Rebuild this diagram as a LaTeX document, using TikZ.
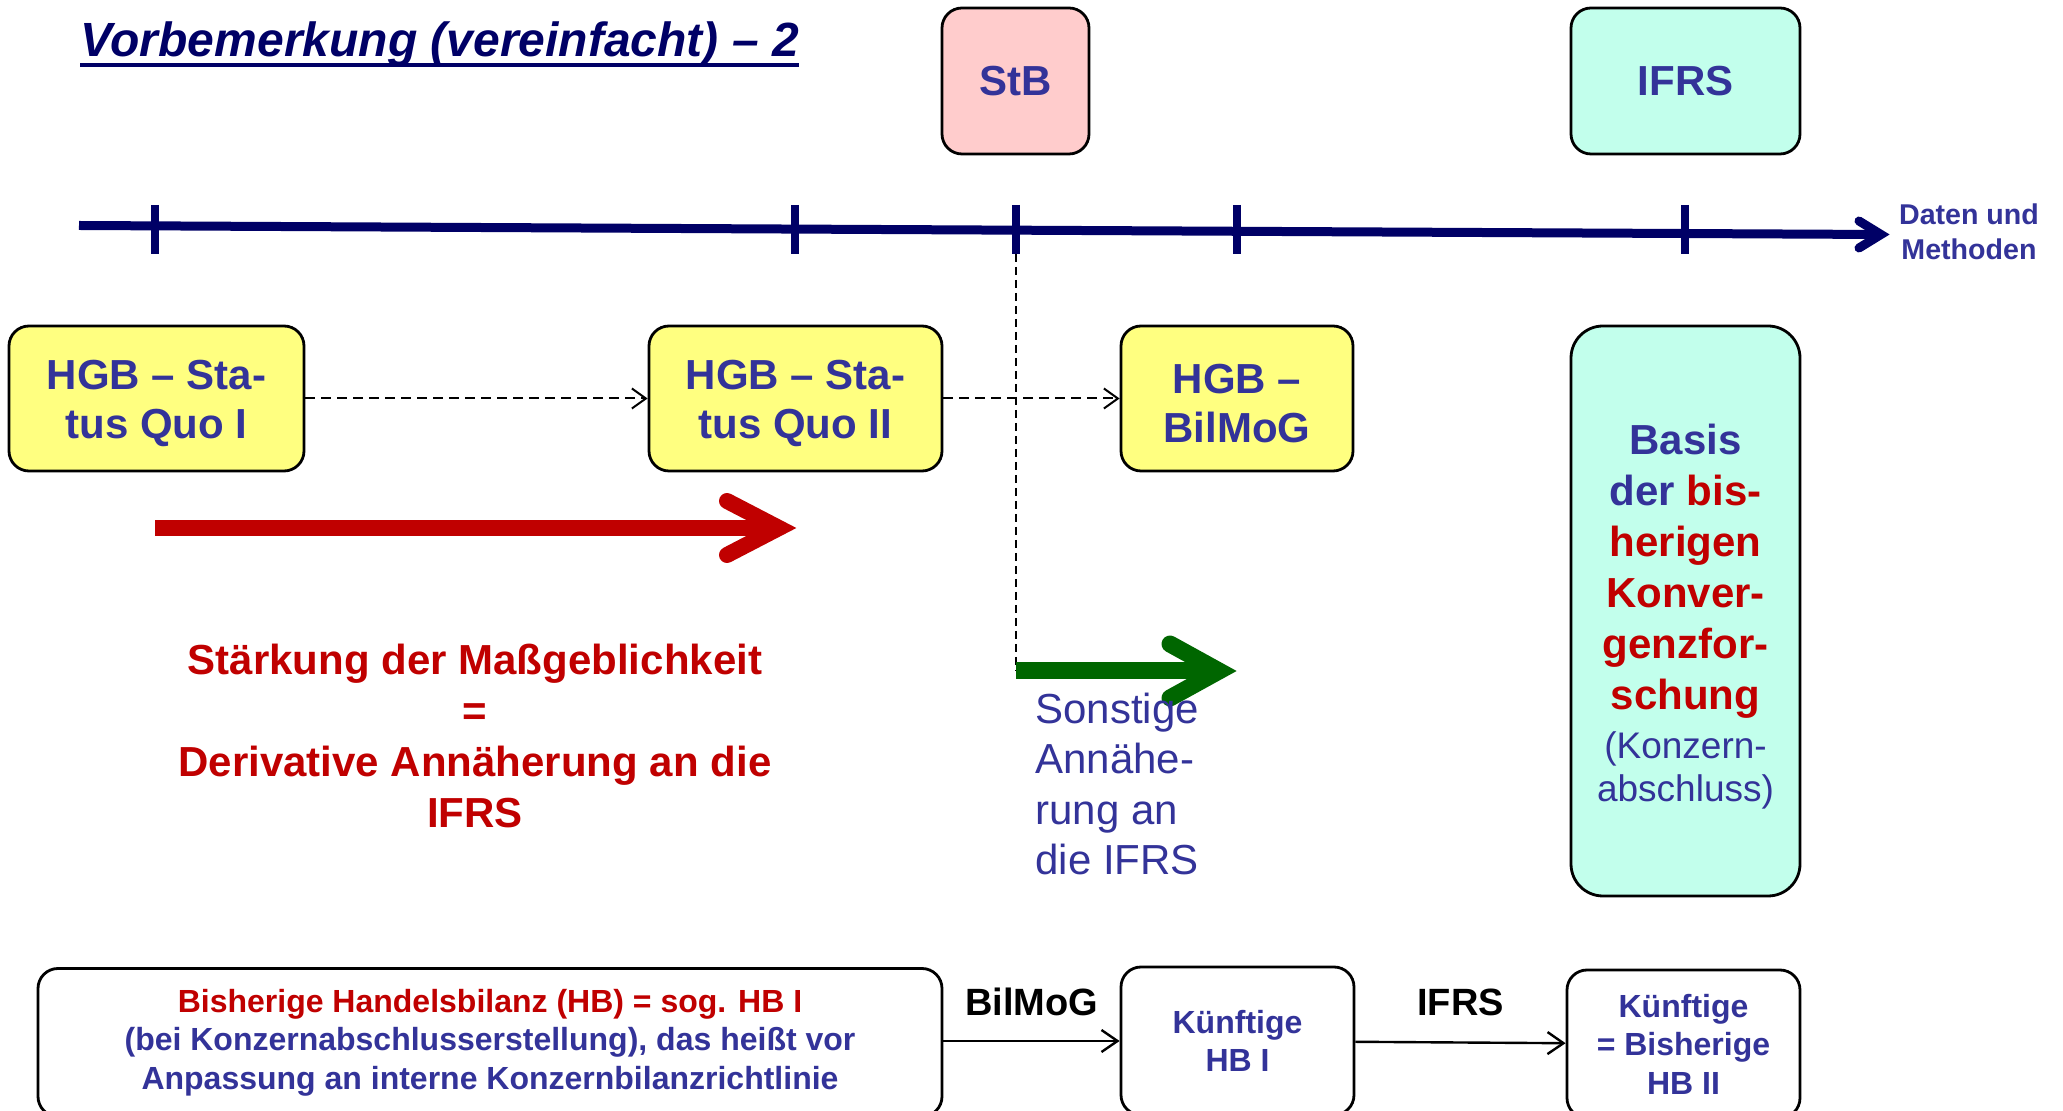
\documentclass[tikz,border=0pt]{standalone}
\usepackage{fontspec}
\setmainfont{Liberation Sans}
\usetikzlibrary{arrows.meta}
\definecolor{navy}{HTML}{333399}
\definecolor{deepnavy}{HTML}{000066}
\definecolor{hred}{HTML}{C00000}
\definecolor{hgreen}{HTML}{006600}
\definecolor{hyellow}{HTML}{FFFF80}
\definecolor{hpink}{HTML}{FFCCCC}
\definecolor{hmint}{HTML}{C2FFEC}
\begin{document}
\begin{tikzpicture}[x=0.5pt,y=-0.5pt,
  rbox/.style={draw=black, line width=1.4pt, rounded corners=10pt, inner sep=0pt, align=center},
  bigtext/.style={font=\fontsize{21}{24.5}\selectfont\bfseries, text=navy, align=center, inner sep=0pt},
  smalltext/.style={font=\fontsize{16}{19.25}\selectfont\bfseries, text=navy},
  dasharrow/.style={draw=black, line width=1pt, dash pattern=on 5pt off 3pt, -{Straight Barb[length=7pt,width=10pt]}},
  solidarrow/.style={draw=black, line width=1.2pt, -{Straight Barb[length=8pt,width=11pt]}},
  tickmark/.style={draw=deepnavy, line width=4pt},
  fatchev/.style={line cap=round, line join=miter},
  lbl/.style={font=\fontsize{19}{22}\selectfont\bfseries, text=black, inner sep=0pt}
]
\useasboundingbox (0,0) rectangle (2063,1111);
\fill[white] (0,0) rectangle (2063,1111);

% title
\node[anchor=base west, inner sep=0pt, font=\fontsize{24}{28}\selectfont\bfseries\itshape, text=deepnavy] (title) at (80,57) {Vorbemerkung (vereinfacht) – 2};
\draw[deepnavy, line width=1.7pt] ([yshift=-4pt]title.base west) -- ([yshift=-4pt]title.base east);

% top boxes
\node[rbox, fill=hpink, minimum width=73.5pt, minimum height=73pt, bigtext] (stb) at (1015.5,81) {StB};
\node[rbox, fill=hmint, minimum width=114.5pt, minimum height=73pt, bigtext] (ifrs) at (1685.5,81) {IFRS};

% timeline
\coordinate (tl0) at (79,225.5);
\coordinate (tl1) at (1881,234.5);
\draw[deepnavy, line width=4.5pt] (tl0) -- (tl1);
\draw[deepnavy, line width=4.5pt, fatchev] (1859,221) -- (tl1) -- (1859,248);
\foreach \x/\n in {155/a,795/b,1016/c,1237/d,1685/e}
  \draw[tickmark] (\x,205) coordinate (tk\n top) -- (\x,254) coordinate (tk\n);
\node[font=\fontsize{14.3}{17.5}\selectfont\bfseries, text=navy, align=center, inner sep=0pt] (dm) at (1969,232) {Daten und\\Methoden};

% HGB boxes
\node[rbox, fill=hyellow, minimum width=147.5pt, minimum height=72.5pt] (hgb1) at (156.5,398.5) {};
\node[rbox, fill=hyellow, minimum width=146.5pt, minimum height=72.5pt] (hgb2) at (795.5,398.5) {};
\node[rbox, fill=hyellow, minimum width=116pt, minimum height=72.5pt] (hgb3) at (1237,398.5) {};
\node[bigtext] (hgb1t) at ([yshift=-2.5pt]hgb1.center) {HGB – Sta-\\tus Quo I};
\node[bigtext] (hgb2t) at ([yshift=-2.5pt]hgb2.center) {HGB – Sta-\\tus Quo II};
\node[bigtext] (hgb3t) at ([yshift=-2.5pt]hgb3.center) {HGB –\\BilMoG};
\draw[dasharrow] (hgb1) -- (hgb2);
\draw[dasharrow] (hgb2) -- (hgb3);

% vertical dashed line and green arrow
\coordinate (gstart) at (1016,671);
\coordinate (gtip) at (1219,671);
\draw[black, line width=0.8pt, dash pattern=on 4pt off 2.5pt] (tkc) -- (gstart);
\draw[hgreen, line width=8.5pt] (gstart) -- (gtip);
\draw[hgreen, line width=8.5pt, fatchev] (1170,644) -- (gtip) -- (1170,698);

% red arrow
\coordinate (rstart) at (155,528);
\coordinate (rtip) at (779,528);
\draw[hred, line width=8pt] (rstart) -- (rtip);
\draw[hred, line width=8pt, fatchev] (727,501) -- (rtip) -- (727,555);

% texts
\node[font=\fontsize{21}{25.5}\selectfont\bfseries, text=hred, align=center, inner sep=0pt] (staerk) at (475,736) {Stärkung der Maßgeblichkeit\\=\\Derivative Annäherung an die\\IFRS};
\node[font=\fontsize{21}{25.3}\selectfont, text=navy, align=left, anchor=west, inner sep=0pt] (sonst) at (1035,784) {Sonstige\\Annähe-\\rung an\\die IFRS};

% Basis box
\node[rbox, fill=hmint, rounded corners=16pt, minimum width=114.5pt, minimum height=285pt] (basis) at (1685.5,611) {};
\node[font=\fontsize{21}{25.5}\selectfont\bfseries, text=navy, align=center, inner sep=0pt] (basist) at ([yshift=-3pt]basis.center)
 {Basis\\der \textcolor{hred}{bis-}\\\textcolor{hred}{herigen}\\\textcolor{hred}{Konver-}\\\textcolor{hred}{genzfor-}\\\textcolor{hred}{schung}\\[-1pt]{\fontsize{18.5}{21.5}\selectfont\mdseries (Konzern-}\\[-4pt]{\fontsize{18.5}{21.5}\selectfont\mdseries abschluss)}};

% bottom boxes
\node[rbox, fill=white, minimum width=452pt, minimum height=74pt, smalltext] (hbA) at (490,1042.5)
 {\textcolor{hred}{Bisherige Handelsbilanz (HB) = sog. HB I}\\(bei Konzernabschlusserstellung), das heißt vor\\Anpassung an interne Konzernbilanzrichtlinie};
\node[rbox, fill=white, minimum width=116.5pt, minimum height=74pt, smalltext] (hbB) at (1237.5,1041) {Künftige\\HB I};
\node[rbox, fill=white, minimum width=116.5pt, minimum height=74pt, smalltext] (hbC) at (1683.5,1044) {Künftige\\= Bisherige\\HB II};
\draw[solidarrow] (hbA.east |- hbB.center) -- node[lbl, midway, yshift=19.5pt] (lblA) {BilMoG} (hbB);
\draw[solidarrow] (hbB) -- node[lbl, midway, yshift=20pt] (lblB) {IFRS} (hbC);
\end{tikzpicture}
\end{document}
